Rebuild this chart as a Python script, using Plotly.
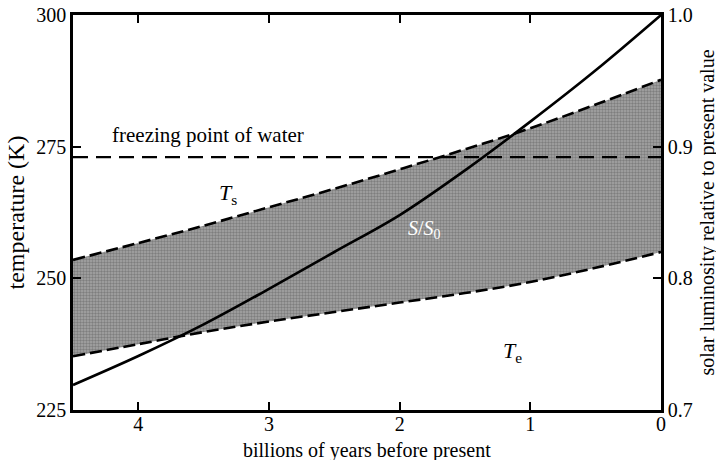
import plotly.graph_objects as go

# ---- data ----
gyr = [4.5, 4.0, 3.5, 3.0, 2.5, 2.0, 1.5, 1.0, 0.5, 0.0]          # billions of years before present
ts_surface = [253.5, 256.7, 260.0, 263.5, 267.0, 270.7, 274.5, 278.5, 283.0, 287.7]  # T_s (K)
te_effective = [235.2, 237.5, 239.8, 241.8, 243.6, 245.4, 247.2, 249.3, 252.0, 255.0]  # T_e (K)
luminosity = [0.719, 0.741, 0.765, 0.792, 0.820, 0.848, 0.882, 0.919, 0.958, 1.0]    # S/S0
freezing_x = [4.5, 0.0]
freezing_T = [273.0, 273.0]

x_ticks = [4, 3, 2, 1, 0]
t_ticks = [225, 250, 275, 300]
l_ticks = [0.7, 0.8, 0.9, 1.0]
l_tick_text = ["0.7", "0.8", "0.9", "1.0"]

FONT = "Liberation Serif"
fig = go.Figure()

# shaded band between T_e and T_s (dithered grey)
fig.add_trace(go.Scatter(x=gyr, y=te_effective, mode="lines", line=dict(width=0, shape="spline"),
                         showlegend=False, hoverinfo="skip"))
fig.add_trace(go.Scatter(x=gyr, y=ts_surface, mode="lines", fill="tonexty", fillcolor="#8c8c8c",
                         fillpattern=dict(shape=".", size=3, solidity=0.5,
                                          fgcolor="#555555", bgcolor="#a6a6a6"),
                         line=dict(width=0, shape="spline"), showlegend=False, hoverinfo="skip"))

# dashed boundary lines
for ys in (ts_surface, te_effective):
    fig.add_trace(go.Scatter(x=gyr, y=ys, mode="lines",
                             line=dict(color="black", width=2.6, dash="12px,5px", shape="spline"),
                             showlegend=False))

# freezing point of water
fig.add_trace(go.Scatter(x=freezing_x, y=freezing_T, mode="lines",
                         line=dict(color="black", width=2.2, dash="15px,8px"), showlegend=False))

# solar luminosity (right axis)
fig.add_trace(go.Scatter(x=gyr, y=luminosity, mode="lines", yaxis="y2",
                         line=dict(color="black", width=2.6, shape="spline"), showlegend=False))

axis_common = dict(showline=True, linecolor="black", linewidth=2.5, ticks="inside", ticklen=8,
                   tickwidth=2, tickcolor="black", showgrid=False, zeroline=False, automargin=False,
                   tickfont=dict(family=FONT, size=20, color="black"))

fig.update_layout(
    width=716, height=460,
    margin=dict(l=73, r=55, t=15, b=50, autoexpand=False),
    paper_bgcolor="white", plot_bgcolor="white",
    font=dict(family=FONT, size=20, color="black"),
    xaxis=dict(range=[4.5, 0], tickvals=x_ticks, mirror="ticks", ticklabelstandoff=-6, **axis_common),
    yaxis=dict(range=[225, 300], tickvals=t_ticks, **axis_common),
    yaxis2=dict(range=[0.7, 1.0], tickvals=l_ticks, ticktext=l_tick_text, overlaying="y", side="right",
                **axis_common),
    annotations=[
        # axis titles
        dict(xref="paper", yref="paper", x=0.5, y=0, yanchor="top", yshift=-27,
             text="billions of years before present", showarrow=False,
             font=dict(family=FONT, size=20, color="black")),
        dict(xref="paper", yref="paper", x=0, y=0.5, xanchor="center", xshift=-58, textangle=-90,
             text="temperature (K)", showarrow=False,
             font=dict(family=FONT, size=24, color="black")),
        dict(xref="paper", yref="paper", x=1, y=0.5, xanchor="center", xshift=46, textangle=-90,
             text="solar luminosity relative to present value", showarrow=False,
             font=dict(family=FONT, size=20, color="black")),
        # in-plot labels
        dict(x=4.22, y=277.2, text="freezing point of water", showarrow=False, xanchor="left",
             font=dict(family=FONT, size=21, color="black")),
        dict(x=3.31, y=266.0, text="<i>T</i><sub>s</sub>", showarrow=False,
             font=dict(family=FONT, size=22, color="black")),
        dict(x=1.14, y=236.0, text="<i>T</i><sub>e</sub>", showarrow=False,
             font=dict(family=FONT, size=22, color="black")),
        dict(x=1.81, y=259.2, text="<i>S</i>/<i>S</i><sub>0</sub>", showarrow=False,
             font=dict(family=FONT, size=20, color="white")),
    ],
)

fig.write_html("out.html")
